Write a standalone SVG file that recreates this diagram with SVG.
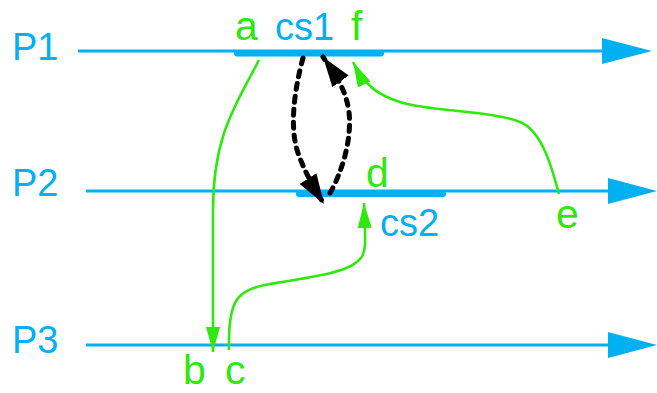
<svg xmlns="http://www.w3.org/2000/svg" width="657" height="393" viewBox="0 0 657 393">
  <style>
    .blue { fill: #00b0f0; }
    .bl { fill: #00b0f0; font-family: "Liberation Sans", Arial, sans-serif; font-size: 38px; }
    .gl { fill: #2ee80e; font-family: "Liberation Sans", Arial, sans-serif; font-size: 41px; }
    .tl { stroke: #00b0f0; stroke-width: 3; fill: none; }
    .bar { stroke: #00b0f0; stroke-width: 6; stroke-linecap: round; fill: none; }
    .gc { stroke: #2ee80e; stroke-width: 2.6; fill: none; marker-end: url(#ga); }
    .kc { stroke: #000; stroke-width: 5; fill: none; stroke-dasharray: 6 7; stroke-linecap: round; marker-end: url(#ka); }
  </style>
  <defs>
    <marker id="ga" markerUnits="userSpaceOnUse" viewBox="0 0 25 14" refX="25" refY="7" markerWidth="25" markerHeight="14" orient="auto">
      <path d="M0,0 L25,7 L0,14 z" fill="#2ee80e"/>
    </marker>
    <marker id="ka" markerUnits="userSpaceOnUse" viewBox="0 0 30 20" refX="30" refY="10" markerWidth="30" markerHeight="20" orient="auto">
      <path d="M0,0 L30,10 L0,20 z" fill="#000"/>
    </marker>
  </defs>

  <g id="P1">
    <line class="tl" x1="78" y1="51" x2="606" y2="51"/>
    <polygon class="blue" points="602,38 652,51 602,64"/>
    <text class="bl" x="12" y="60">P1</text>
  </g>
  <g id="P2">
    <line class="tl" x1="86" y1="191" x2="612" y2="191"/>
    <polygon class="blue" points="608,178 657,191 608,204"/>
    <text class="bl" x="12" y="196">P2</text>
  </g>
  <g id="P3">
    <line class="tl" x1="86" y1="345" x2="612" y2="345"/>
    <polygon class="blue" points="608,332 657,345 608,358"/>
    <text class="bl" x="12" y="353">P3</text>
  </g>

  <g id="cs1">
    <line class="bar" x1="237" y1="53.5" x2="381" y2="53.5"/>
    <text class="bl" x="275" y="40">cs1</text>
  </g>
  <g id="cs2">
    <line class="bar" x1="299" y1="194" x2="443" y2="194"/>
    <text class="bl" x="380" y="236">cs2</text>
  </g>

  <g id="a"><text class="gl" x="235" y="40">a</text></g>
  <g id="f"><text class="gl" x="351" y="40">f</text></g>
  <g id="d"><text class="gl" x="366" y="187">d</text></g>
  <g id="e"><text class="gl" x="556" y="228">e</text></g>
  <g id="b"><text class="gl" x="183" y="384">b</text></g>
  <g id="c"><text class="gl" x="225" y="384">c</text></g>

  <g id="connectors">
    <path class="gc" d="M259,60 C 236,105 213,135 213,210 L213,352"/>
    <path class="gc" d="M229,350 C 228,300 236,290 270,284 C 320,276 350,272 361,258 C 367,250 365,238 364,203"/>
    <path class="gc" d="M559,194 C 550,160 540,130 520,122 C 490,110 430,112 400,102 C 378,95 365,86 353,62"/>
    <path class="kc" d="M303,58 C 293,95 290,130 298,153 C 304,170 312,185 324,204"/>
    <path class="kc" d="M330,193 C 342,172 352,140 349,112 C 346,90 336,75 323,57"/>
  </g>
</svg>
